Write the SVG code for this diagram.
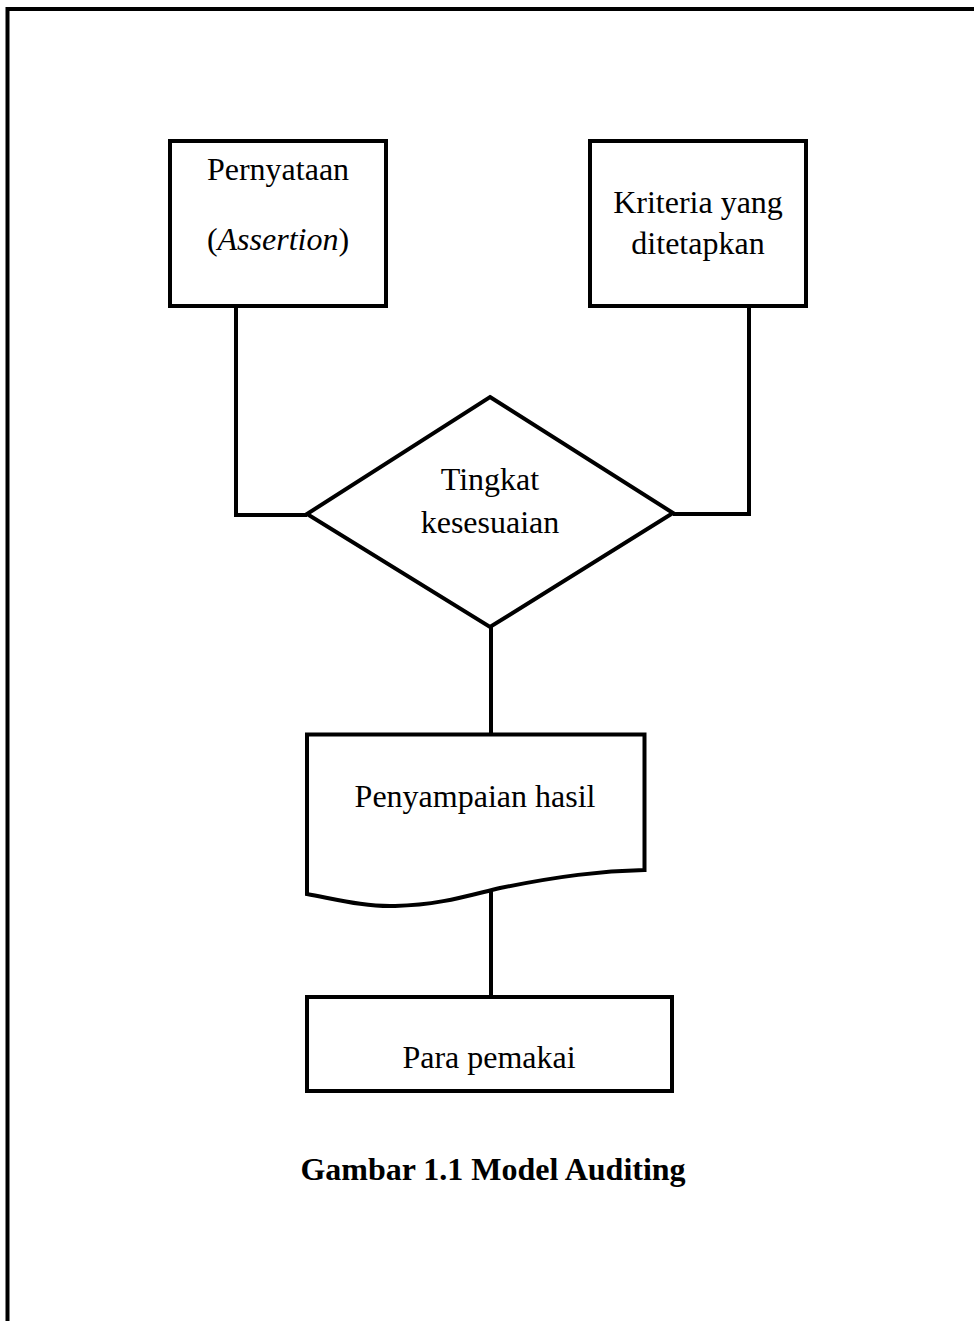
<svg xmlns="http://www.w3.org/2000/svg" width="974" height="1321" viewBox="0 0 974 1321">
<style>
.s{fill:#fff;stroke:#000;stroke-width:4}
.c{fill:none;stroke:#000;stroke-width:4}
text{font-family:"Liberation Serif","Times New Roman",serif;font-size:32px;fill:#000;text-anchor:middle}
.t{font-weight:bold}
</style>
<rect width="974" height="1321" fill="#fff"/>
<path d="M7.5,1321 V9 H974" fill="none" stroke="#000" stroke-width="4"/>
<g id="connectors">
<path class="c" d="M236,306 V515 H307"/>
<path class="c" d="M749,306 V514 H673"/>
<path class="c" d="M491,627 V734"/>
<path class="c" d="M491,890 V997"/>
</g>
<g id="pernyataan">
<rect class="s" x="170" y="141" width="216" height="165"/>
<text x="278" y="180">Pernyataan</text>
<text x="278" y="250">(<tspan font-style="italic">Assertion</tspan>)</text>
</g>
<g id="kriteria">
<rect class="s" x="590" y="141" width="216" height="165"/>
<text x="698" y="213">Kriteria yang</text>
<text x="698" y="254">ditetapkan</text>
</g>
<g id="tingkat">
<polygon class="s" points="490,397 673,513 490,627 307,514"/>
<text x="490" y="490">Tingkat</text>
<text x="490" y="533">kesesuaian</text>
</g>
<g id="penyampaian">
<path class="s" d="M307,734.5 H644.5 V870 C600,871 560,876 500,888 C470,895 440,905 395,906 C365,907 335,899 307,894 Z"/>
<text x="475" y="807">Penyampaian hasil</text>
</g>
<g id="pemakai">
<rect class="s" x="307" y="997" width="365" height="94"/>
<text x="489" y="1068">Para pemakai</text>
</g>
<g id="caption">
<text class="t" x="493" y="1180">Gambar 1.1 Model Auditing</text>
</g>
</svg>
